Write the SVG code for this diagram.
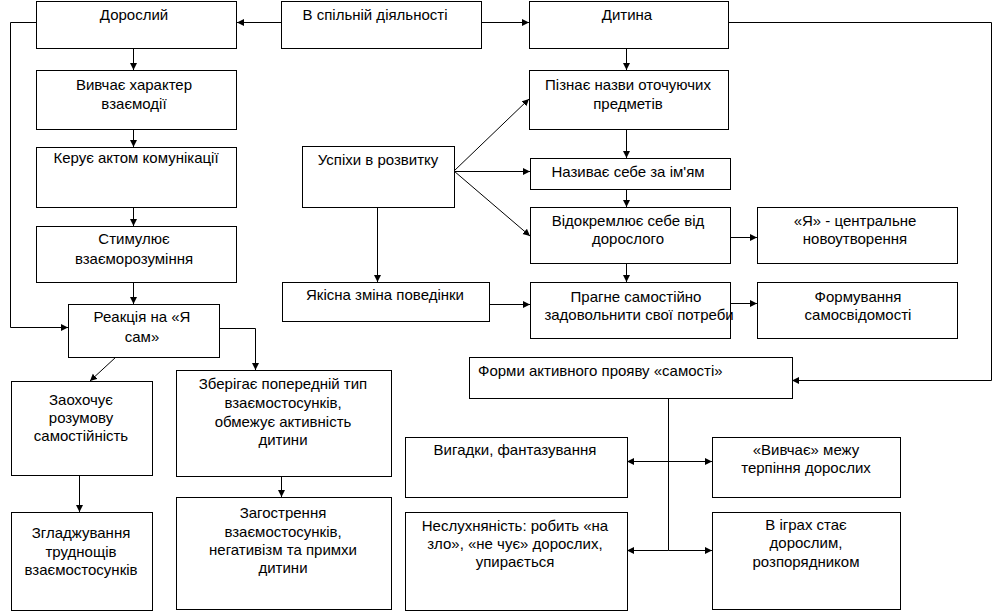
<svg xmlns="http://www.w3.org/2000/svg" width="994" height="613" viewBox="0 0 994 613">
<style>
.b{fill:#fff;stroke:#000;stroke-width:1}
text{font-family:"Liberation Sans",Arial,sans-serif;font-size:15px;fill:#000;text-anchor:middle}
.c line,.c polyline{stroke:#000;stroke-width:1;fill:none;marker-end:url(#a)}
.c .n{marker-end:none}
</style>
<defs>
<marker id="a" markerUnits="userSpaceOnUse" markerWidth="8" markerHeight="8" refX="7" refY="3.5" orient="auto"><path d="M0,0 L7,3.5 L0,7 z" fill="#000"/></marker>
</defs>
<rect width="994" height="613" fill="#fff"/>
<g class="c">
<line x1="281" y1="22.5" x2="237" y2="22.5"/>
<line x1="481" y1="22.5" x2="529" y2="22.5"/>
<line x1="133.5" y1="48" x2="133.5" y2="70"/>
<line x1="133.5" y1="129" x2="133.5" y2="147"/>
<line x1="133.5" y1="207" x2="133.5" y2="226"/>
<line x1="133.5" y1="282" x2="133.5" y2="304"/>
<polyline points="36,22.5 10.5,22.5 10.5,327.5 68,327.5"/>
<line x1="116" y1="357" x2="90" y2="381"/>
<polyline points="219,328.5 255.5,328.5 255.5,370"/>
<line x1="79.5" y1="475" x2="79.5" y2="512"/>
<line x1="281.5" y1="476" x2="281.5" y2="497"/>
<line x1="626.5" y1="48" x2="626.5" y2="70"/>
<line x1="626.5" y1="129" x2="626.5" y2="158"/>
<line x1="626.5" y1="189" x2="626.5" y2="207"/>
<line x1="626.5" y1="263" x2="626.5" y2="282"/>
<line x1="454" y1="171" x2="529" y2="99"/>
<line x1="454" y1="171.5" x2="530" y2="171.5"/>
<line x1="454" y1="171" x2="530" y2="236"/>
<line x1="377.5" y1="207" x2="377.5" y2="282"/>
<line x1="489" y1="304.5" x2="530" y2="304.5"/>
<line x1="731" y1="237.5" x2="757" y2="237.5"/>
<line x1="731" y1="303.5" x2="757" y2="303.5"/>
<polyline points="728,22.5 991.5,22.5 991.5,380.5 792,380.5"/>
<line class="n" x1="668.5" y1="398" x2="668.5" y2="550.5"/>
<line x1="668.5" y1="461.5" x2="627" y2="461.5"/>
<line x1="668.5" y1="461.5" x2="712" y2="461.5"/>
<line x1="668.5" y1="550.5" x2="627" y2="550.5"/>
<line x1="668.5" y1="550.5" x2="712" y2="550.5"/>
</g>
<g id="doroslyi"><rect class="b" x="36.5" y="1.5" width="200" height="47"/><text x="134" y="20">Дорослий</text></g>
<g id="spilna"><rect class="b" x="281.5" y="1.5" width="200" height="47"/><text x="375" y="20">В спільній діяльності</text></g>
<g id="dytyna"><rect class="b" x="529.5" y="1.5" width="199" height="47"/><text x="627" y="20">Дитина</text></g>
<g id="vyvchaie"><rect class="b" x="36.5" y="70.5" width="200" height="59"/><text x="134" y="90">Вивчає характер</text><text x="134" y="109">взаємодії</text></g>
<g id="keruie"><rect class="b" x="36.5" y="147.5" width="200" height="60"/><text x="136" y="163">Керує актом комунікації</text></g>
<g id="stymuliuie"><rect class="b" x="36.5" y="226.5" width="200" height="56"/><text x="134" y="244">Стимулює</text><text x="134" y="264">взаєморозуміння</text></g>
<g id="reaktsiia"><rect class="b" x="68.5" y="304.5" width="151" height="53"/><text x="142" y="322">Реакція на «Я</text><text x="142" y="342">сам»</text></g>
<g id="zaokhochuie"><rect class="b" x="11.5" y="381.5" width="141" height="94"/><text x="81" y="405">Заохочує</text><text x="81" y="423">розумову</text><text x="81" y="441">самостійність</text></g>
<g id="zberihaie"><rect class="b" x="176.5" y="370.5" width="215" height="106"/><text x="283" y="389">Зберігає попередній тип</text><text x="283" y="408">взаємостосунків,</text><text x="283" y="427">обмежує активність</text><text x="283" y="445">дитини</text></g>
<g id="zhladzhuvannia"><rect class="b" x="11.5" y="512.5" width="141" height="98"/><text x="81" y="538">Згладжування</text><text x="81" y="557">труднощів</text><text x="81" y="575">взаємостосунків</text></g>
<g id="zahostrennia"><rect class="b" x="176.5" y="497.5" width="215" height="112"/><text x="283" y="518">Загострення</text><text x="283" y="537">взаємостосунків,</text><text x="283" y="555">негативізм та примхи</text><text x="283" y="573">дитини</text></g>
<g id="uspikhy"><rect class="b" x="302.5" y="146.5" width="152" height="61"/><text x="378" y="165">Успіхи в розвитку</text></g>
<g id="yakisna"><rect class="b" x="282.5" y="282.5" width="207" height="39"/><text x="385" y="300">Якісна зміна поведінки</text></g>
<g id="piznaie"><rect class="b" x="529.5" y="70.5" width="199" height="59"/><text x="628" y="90">Пізнає назви оточуючих</text><text x="628" y="109">предметів</text></g>
<g id="nazyvaie"><rect class="b" x="530.5" y="158.5" width="200" height="31"/><text x="628" y="177">Називає себе за ім'ям</text></g>
<g id="vidokremliuie"><rect class="b" x="530.5" y="207.5" width="200" height="56"/><text x="628" y="226">Відокремлює себе від</text><text x="628" y="244">дорослого</text></g>
<g id="ya"><rect class="b" x="757.5" y="207.5" width="200" height="56"/><text x="855" y="226">«Я» - центральне</text><text x="855" y="244">новоутворення</text></g>
<g id="prahne"><rect class="b" x="530.5" y="282.5" width="200" height="56"/><text x="636" y="302">Прагне самостійно</text><text x="639" y="320">задовольнити свої потреби</text></g>
<g id="formuvannia"><rect class="b" x="757.5" y="282.5" width="200" height="56"/><text x="858" y="302">Формування</text><text x="858" y="320">самосвідомості</text></g>
<g id="formy"><rect class="b" x="469.5" y="357.5" width="323" height="41"/><text x="478" y="376" style="text-anchor:start">Форми активного прояву «самості»</text></g>
<g id="vyhadky"><rect class="b" x="405.5" y="437.5" width="222" height="60"/><text x="515" y="455">Вигадки, фантазування</text></g>
<g id="mezhu"><rect class="b" x="712.5" y="437.5" width="188" height="60"/><text x="806" y="455">«Вивчає» межу</text><text x="806" y="473">терпіння дорослих</text></g>
<g id="neslukhnianist"><rect class="b" x="405.5" y="512.5" width="222" height="98"/><text x="515" y="531">Неслухняність: робить «на</text><text x="515" y="549">зло», «не чує» дорослих,</text><text x="515" y="567">упирається</text></g>
<g id="ihrakh"><rect class="b" x="712.5" y="512.5" width="188" height="97"/><text x="806" y="530">В іграх стає</text><text x="806" y="548">дорослим,</text><text x="806" y="567">розпорядником</text></g>
</svg>
